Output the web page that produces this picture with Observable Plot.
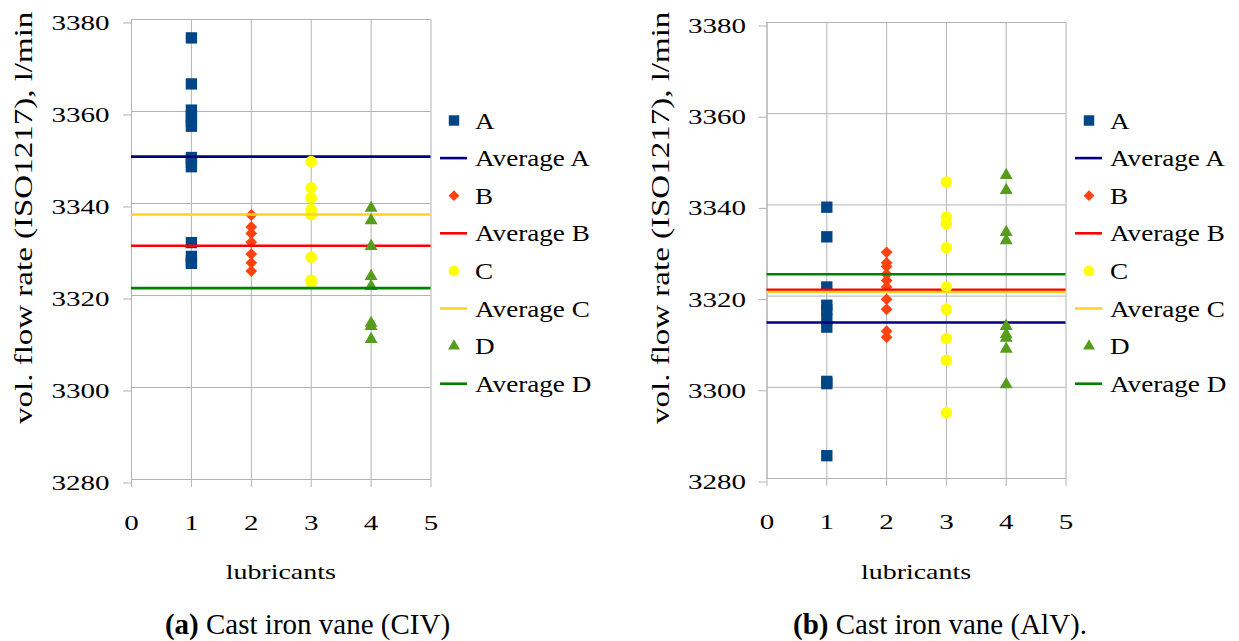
<!DOCTYPE html>
<html><head><meta charset="utf-8">
<script src="https://cdn.jsdelivr.net/npm/d3@7"></script>
<script src="https://cdn.jsdelivr.net/npm/@observablehq/plot@0.6"></script>
<style>
html,body{margin:0;padding:0;background:#fff;}
#page{position:relative;width:1239px;height:641px;overflow:hidden;font-family:"Liberation Serif","Times New Roman",serif;}
#page svg{position:absolute;top:0;}
#page svg text{font-family:"Liberation Serif","Times New Roman",serif !important;}
</style></head><body><div id="page"></div>
<script>
// ---- data ----
const lubricants = [1, 2, 3, 4];
const seriesNames = ["A", "B", "C", "D"];
const xTicks = [0, 1, 2, 3, 4, 5];
const yTicks = [3280, 3300, 3320, 3340, 3360, 3380];

// (a) Cast iron vane (CIV)
const civA = [3376, 3366, 3360.3, 3359, 3357.8, 3356.8, 3350, 3349, 3348, 3331.5, 3328.5, 3327.5, 3327];
const civB = [3337.5, 3334.9, 3333.5, 3331.6, 3329, 3327.1, 3325.3];
const civC = [3349.1, 3343.4, 3341.2, 3338.7, 3337.6, 3328.3, 3323.3, 3322.8];
const civD = [3339, 3336.3, 3330.7, 3324.2, 3322, 3314, 3313.3, 3310.5];
const civAverages = [3350.2, 3330.8, 3337.6, 3321.6];

// (b) Cast iron vane (AlV)
const alvA = [3339.5, 3333, 3322, 3318, 3317, 3315, 3313.2, 3301.3, 3300.8, 3285];
const alvB = [3329.6, 3327.3, 3326.5, 3324.8, 3323.4, 3322, 3319.3, 3317.1, 3312.3, 3311];
const alvC = [3345, 3337.3, 3335.9, 3330.6, 3322, 3317.1, 3310.7, 3305.9, 3294.4];
const alvD = [3346.5, 3343.2, 3334, 3332.2, 3313.4, 3311.6, 3310.8, 3308.4, 3300.6];
const alvAverages = [3314.2, 3321.4, 3320.9, 3324.8];

const xLabel = "lubricants";
const yLabel = "vol. flow rate (ISO1217), l/min";
const captions = [["(a)", " Cast iron vane (CIV)"], ["(b)", " Cast iron vane (AlV)."]];

// ---- styles ----
const pointColors = ["#004586", "#ff420e", "#ffff00", "#579d1c"];
const lineColors = ["#000080", "#ff0000", "#ffd320", "#008000"];
const symbols = ["square", "diamond2", "circle", "triangle"];
const symbolR = [6.4, 5.3, 5.8, 4.8];
const gridColor = "#b3b3b3";
const stretch = 1.32;
const serif = '"Liberation Serif", "Times New Roman", serif';

function makeChart(series, averages, cfg) {
  const marks = [
    Plot.gridX(xTicks, {stroke: gridColor, strokeOpacity: 1}),
    Plot.gridY(yTicks, {stroke: gridColor, strokeOpacity: 1}),
    Plot.ruleX([0], {stroke: gridColor}),
    Plot.ruleY([3280], {stroke: gridColor}),
    Plot.axisY(yTicks, {tickSize: 8, tickPadding: cfg.yPad, stroke: gridColor, fill: "black", fontSize: 22, label: null, dy: 3.5, tickFormat: d => String(d)}),
    Plot.axisX(xTicks, {tickSize: 8, tickPadding: 27, stroke: gridColor, fill: "black", fontSize: 22, label: null, tickFormat: d => String(d)})
  ];
  series.forEach((vals, i) => {
    const rows = vals.map(v => ({lub: lubricants[i], val: v, name: seriesNames[i]}));
    marks.push(Plot.dot(rows, {x: "lub", y: "val", symbol: symbols[i], fill: pointColors[i], r: symbolR[i], stroke: null}));
    marks.push(Plot.ruleY([averages[i]], {stroke: lineColors[i], strokeWidth: 2.6}));
  });
  const svg = Plot.plot({
    width: cfg.width, height: 540,
    marginLeft: cfg.ml, marginRight: cfg.mr, marginTop: cfg.mt, marginBottom: cfg.mb,
    x: {domain: [0, 5]},
    y: {domain: [3280, 3380]},
    style: {fontFamily: serif, fontSize: "22px", background: "transparent", color: "black"},
    marks
  });
  svg.setAttribute("font-family", serif);
  svg.style.left = cfg.left + "px";
  d3.select(svg).selectAll('g[aria-label="y-axis tick label"], g[aria-label="x-axis tick label"]')
    .attr("font-family", serif);
  d3.select(svg).selectAll('g[aria-label="y-axis tick label"] text, g[aria-label="x-axis tick label"] text')
    .each(function () {
      const t = this.getAttribute("transform") || "";
      this.setAttribute("transform", t + ` scale(${stretch},1)`);
    });
  return svg;
}

const page = document.getElementById("page");
page.appendChild(makeChart([civA, civB, civC, civD], civAverages,
  {left: 0, width: 620, ml: 131, mr: 189.5, mt: 19, mb: 61, yPad: 14}));
page.appendChild(makeChart([alvA, alvB, alvC, alvD], alvAverages,
  {left: 620, width: 619, ml: 146.5, mr: 173.5, mt: 22, mb: 62, yPad: 13}));

// ---- overlay texts & legends ----
const ov = d3.select(page).append("svg").attr("width", 1239).attr("height", 641)
  .style("left", "0px").attr("font-family", serif);

const panels = [
  {yLabX: 32, xLabX: 280.7, capX: 307.5, legMark: 454, legText: 475},
  {yLabX: 669, xLabX: 916, capX: 940, legMark: 1089, legText: 1110}
];
const legendItems = [];
seriesNames.forEach((n, i) => {
  legendItems.push({type: "dot", i, label: n});
  legendItems.push({type: "line", i, label: "Average " + n});
});

panels.forEach((p, k) => {
  ov.append("text").attr("transform", `translate(${p.yLabX},424) rotate(-90) scale(1.32,1)`)
    .attr("font-size", 25).attr("fill", "black").text(yLabel);
  ov.append("text").attr("transform", `translate(${p.xLabX},579) scale(1.27,1)`)
    .attr("text-anchor", "middle").attr("font-size", 22).attr("fill", "black").text(xLabel);
  const cap = ov.append("text").attr("x", p.capX).attr("y", 634).attr("text-anchor", "middle")
    .attr("font-size", 29).attr("fill", "black");
  cap.append("tspan").attr("font-weight", "bold").text(captions[k][0]);
  cap.append("tspan").text(captions[k][1]);

  legendItems.forEach((it, j) => {
    const cy = 120.5 + j * 37.6;
    if (it.type === "dot") {
      const symMap = {square: d3.symbolSquare, diamond2: d3.symbolDiamond2, circle: d3.symbolCircle, triangle: d3.symbolTriangle};
      const r = symbolR[it.i] * 0.92;
      ov.append("path").attr("transform", `translate(${p.legMark},${cy})`)
        .attr("d", d3.symbol(symMap[symbols[it.i]], Math.PI * r * r)())
        .attr("fill", pointColors[it.i]);
    } else {
      ov.append("line").attr("x1", p.legMark - 14).attr("x2", p.legMark + 13)
        .attr("y1", cy).attr("y2", cy).attr("stroke", lineColors[it.i]).attr("stroke-width", 2.6);
    }
    ov.append("text").attr("transform", `translate(${p.legText},${cy + 8}) scale(1.18,1)`)
      .attr("font-size", 23).attr("fill", "black").text(it.label);
  });
});
</script></body></html>
